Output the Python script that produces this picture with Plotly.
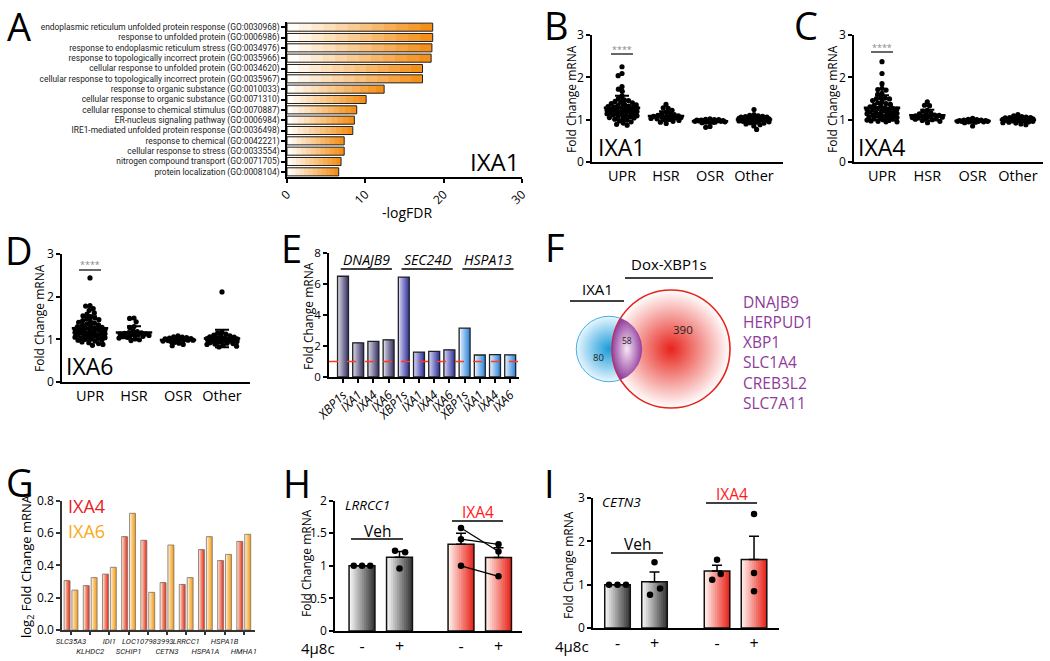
import numpy as np
import plotly.graph_objects as go

W, H = 1050, 661
FONT = "Open Sans"

# ---------------- A: GO enrichment (IXA1)
go_terms = [
    "endoplasmic reticulum unfolded protein response (GO:0030968)",
    "response to unfolded protein (GO:0006986)",
    "response to endoplasmic reticulum stress (GO:0034976)",
    "response to topologically incorrect protein (GO:0035966)",
    "cellular response to unfolded protein (GO:0034620)",
    "cellular response to topologically incorrect protein (GO:0035967)",
    "response to organic substance (GO:0010033)",
    "cellular response to organic substance (GO:0071310)",
    "cellular response to chemical stimulus (GO:0070887)",
    "ER-nucleus signaling pathway (GO:0006984)",
    "IRE1-mediated unfolded protein response (GO:0036498)",
    "response to chemical (GO:0042221)",
    "cellular response to stress (GO:0033554)",
    "nitrogen compound transport (GO:0071705)",
    "protein localization (GO:0008104)",
]
go_logfdr = [18.6, 18.6, 18.5, 18.4, 17.3, 17.3, 12.4, 10.1, 8.9, 8.6, 8.4, 7.3, 7.3, 6.9, 6.6]

# ---------------- B-D: fold change per stress pathway
stress_groups = ["UPR", "HSR", "OSR", "Other"]

ixa1_upr = [2.25, 2.09, 2.04, 1.78, 1.72, 1.67, 1.56, 1.50, 1.47, 1.45, 1.43, 1.41, 1.40, 1.38,
            1.36, 1.35, 1.33, 1.32, 1.31, 1.30, 1.29, 1.28, 1.27, 1.26, 1.25, 1.24, 1.24, 1.23,
            1.22, 1.21, 1.20, 1.19, 1.18, 1.18, 1.17, 1.16, 1.15, 1.14, 1.13, 1.12, 1.11, 1.10,
            1.09, 1.08, 1.07, 1.05, 1.04, 1.03, 1.01, 0.99, 0.97, 0.95, 0.92, 0.89, 0.87]
ixa1_hsr = [1.36, 1.28, 1.27, 1.22, 1.18, 1.15, 1.13, 1.12, 1.10, 1.09, 1.08, 1.07, 1.06, 1.05,
            1.05, 1.04, 1.03, 1.02, 1.01, 1.00, 0.98, 0.96, 0.94, 0.91]
ixa1_osr = [1.02, 1.01, 1.00, 1.00, 0.99, 0.99, 0.98, 0.98, 0.98, 0.97, 0.97, 0.97, 0.96, 0.96,
            0.96, 0.95, 0.95, 0.94, 0.93, 0.84, 0.82]
ixa1_other = [1.24, 1.12, 1.10, 1.09, 1.08, 1.07, 1.06, 1.06, 1.05, 1.05, 1.04, 1.04, 1.03, 1.03,
              1.02, 1.02, 1.01, 1.01, 1.00, 1.00, 0.99, 0.99, 0.98, 0.98, 0.97, 0.96, 0.95, 0.94,
              0.93, 0.92, 0.90, 0.88, 0.85, 0.77]

ixa4_upr = [2.37, 2.09, 1.85, 1.74, 1.71, 1.70, 1.62, 1.60, 1.52, 1.51, 1.50, 1.49, 1.45, 1.42,
            1.40, 1.38, 1.36, 1.34, 1.32, 1.30, 1.28, 1.27, 1.26, 1.25, 1.24, 1.23, 1.22, 1.21,
            1.20, 1.19, 1.18, 1.17, 1.16, 1.15, 1.14, 1.13, 1.12, 1.11, 1.10, 1.09, 1.08, 1.07,
            1.06, 1.05, 1.04, 1.03, 1.02, 1.01, 1.00, 0.99, 0.98, 0.97, 0.96, 0.95, 0.95]
ixa4_hsr = [1.42, 1.34, 1.33, 1.22, 1.20, 1.16, 1.14, 1.12, 1.11, 1.10, 1.09, 1.08, 1.07, 1.06,
            1.05, 1.04, 1.03, 1.02, 1.01, 1.00, 0.98, 0.96, 0.93]
ixa4_osr = [1.03, 1.01, 1.00, 0.99, 0.99, 0.98, 0.98, 0.98, 0.97, 0.97, 0.97, 0.96, 0.96, 0.96,
            0.95, 0.95, 0.94, 0.93, 0.85]
ixa4_other = [1.12, 1.09, 1.07, 1.06, 1.05, 1.05, 1.04, 1.04, 1.03, 1.03, 1.02, 1.02, 1.01, 1.01,
              1.00, 1.00, 1.00, 0.99, 0.99, 0.98, 0.98, 0.97, 0.97, 0.96, 0.95, 0.94, 0.93, 0.92,
              0.90, 0.88]

ixa6_upr = [2.44, 1.79, 1.78, 1.72, 1.68, 1.62, 1.59, 1.55, 1.53, 1.50, 1.48, 1.46, 1.44, 1.42,
            1.40, 1.38, 1.36, 1.34, 1.33, 1.31, 1.30, 1.28, 1.27, 1.26, 1.25, 1.24, 1.23, 1.22,
            1.21, 1.20, 1.19, 1.18, 1.17, 1.16, 1.15, 1.14, 1.13, 1.12, 1.11, 1.10, 1.09, 1.08,
            1.07, 1.06, 1.05, 1.04, 1.03, 1.02, 1.01, 1.00, 0.99, 0.98, 0.96, 0.94, 0.92, 0.90,
            0.88, 0.86]
ixa6_hsr = [1.50, 1.49, 1.41, 1.30, 1.28, 1.20, 1.18, 1.16, 1.15, 1.14, 1.13, 1.12, 1.11, 1.10,
            1.09, 1.08, 1.07, 1.06, 1.05, 1.03, 1.01, 0.99, 0.97]
ixa6_osr = [1.08, 1.06, 1.05, 1.04, 1.03, 1.02, 1.01, 1.00, 1.00, 0.99, 0.99, 0.98, 0.98, 0.97,
            0.96, 0.95, 0.93, 0.91, 0.88, 0.85]
ixa6_other = [2.11, 1.17, 1.15, 1.12, 1.10, 1.08, 1.07, 1.06, 1.05, 1.04, 1.03, 1.02, 1.02, 1.01,
              1.01, 1.00, 1.00, 0.99, 0.99, 0.98, 0.98, 0.97, 0.97, 0.96, 0.96, 0.95, 0.94, 0.93,
              0.92, 0.91, 0.90, 0.89, 0.88, 0.86, 0.84, 0.82]

# ---------------- E: qPCR of XBP1s targets
e_genes = ["DNAJB9", "SEC24D", "HSPA13"]
e_treatments = ["XBP1s", "IXA1", "IXA4", "IXA6"]
e_fold = [6.5, 2.2, 2.3, 2.4, 6.45, 1.6, 1.65, 1.75, 3.15, 1.42, 1.45, 1.43]

# ---------------- F: Venn overlap
venn_ixa1_only = 80
venn_shared = 58
venn_xbp1s_only = 390
venn_shared_genes = ["DNAJB9", "HERPUD1", "XBP1", "SLC1A4", "CREB3L2", "SLC7A11"]

# ---------------- G: log2 fold change
g_genes = ["SLC35A3", "KLHDC2", "IDI1", "SCHIP1", "LOC107983993", "CETN3", "LRRCC1",
           "HSPA1A", "HSPA1B", "HMHA1"]
g_ixa4 = [0.305, 0.274, 0.346, 0.577, 0.555, 0.293, 0.282, 0.497, 0.429, 0.548]
g_ixa6 = [0.247, 0.324, 0.388, 0.722, 0.233, 0.526, 0.324, 0.577, 0.468, 0.592]

# ---------------- H, I: 4u8c treatment (replicates per bar: Veh -, Veh +, IXA4 -, IXA4 +)
treat_4u8c = ["-", "+", "-", "+"]
lrrcc1_reps = [[1.0, 1.0, 1.0], [1.23, 1.21, 0.96], [1.58, 1.41, 1.0], [1.22, 1.33, 0.84]]
cetn3_reps = [[1.0, 1.0, 1.0], [1.515, 0.91, 0.77], [1.577, 1.246, 1.115], [2.63, 1.27, 0.846]]


def px(x):
    return x / W


def py(y):
    return 1 - y / H


def hex_rgb(c):
    c = c.lstrip("#")
    return [int(c[i:i + 2], 16) for i in (0, 2, 4)]


def mix(c1, c2, t):
    a, b = hex_rgb(c1), hex_rgb(c2)
    return "rgb({},{},{})".format(*[round(a[i] + (b[i] - a[i]) * t) for i in range(3)])


fig = go.Figure()
axes = {}
annotations = []
shapes = []


def add_axes(n, x0, x1, ytop, ybot, xkw, ykw):
    s = "" if n == 1 else str(n)
    axes["xaxis" + s] = dict(domain=[px(x0), px(x1)], anchor="y" + s, **xkw)
    axes["yaxis" + s] = dict(domain=[py(ybot), py(ytop)], anchor="x" + s, **ykw)


def ax_style(**kw):
    base = dict(showline=True, linecolor="black", linewidth=1.5, ticks="outside", ticklen=4,
                tickwidth=1.5, tickcolor="black", showgrid=False, zeroline=False,
                automargin=False, tickfont=dict(size=12, color="black", family=FONT),
                fixedrange=True)
    base.update(kw)
    return base


def note(text, x, y, size=14, color="black", xanchor="center", yanchor="middle", **kw):
    annotations.append(dict(text=text, x=px(x), y=py(y), xref="paper", yref="paper",
                            showarrow=False, xanchor=xanchor, yanchor=yanchor,
                            font=dict(size=size, color=color, family=FONT), **kw))


def hline(x0, x1, y, width=1.5, color="black"):
    shapes.append(dict(type="line", xref="paper", yref="paper", x0=px(x0), x1=px(x1),
                       y0=py(y), y1=py(y), line=dict(color=color, width=width)))


def gradient_bars(n, pos, vals, dark, light, width, offset, horizontal=False, steps=12,
                  line_color="#222", line_width=1.0, error=None):
    s = "" if n == 1 else str(n)
    vals = np.asarray(vals, float)
    dark = dark if isinstance(dark, list) else [dark] * len(vals)
    light = light if isinstance(light, list) else [light] * len(vals)
    for k in range(steps):
        t = k / (steps - 1)
        frac = 1 - k / steps
        colors = [mix(d, l, t) for d, l in zip(dark, light)]
        if horizontal:
            tr = go.Bar(y=pos, x=vals * frac, orientation="h", width=width, offset=offset)
        else:
            tr = go.Bar(x=pos, y=vals, width=width * frac, offset=offset)
        tr.update(marker=dict(color=colors, line=dict(width=0)), xaxis="x" + s, yaxis="y" + s,
                  hoverinfo="skip")
        fig.add_trace(tr)
    if horizontal:
        tr = go.Bar(y=pos, x=vals, orientation="h", width=width, offset=offset)
    else:
        tr = go.Bar(x=pos, y=vals, width=width, offset=offset)
    tr.update(marker=dict(color="rgba(0,0,0,0)", line=dict(color=line_color, width=line_width)),
              xaxis="x" + s, yaxis="y" + s, hoverinfo="skip")
    if error is not None:
        tr.update(error_y=error)
    fig.add_trace(tr)


def swarm(vals, ppu_x, ppu_y, d=4.4, maxw=15.0):
    # beeswarm offsets (in axis units), packed in pixel space and capped in width
    vals = np.asarray(vals, float)
    xs = np.zeros(len(vals))
    placed = []
    grid = np.linspace(-maxw, maxw, 31)
    for i in np.argsort(-vals, kind="stable"):
        y = vals[i] * ppu_y
        cands = [0.0]
        for (qx, qy) in placed:
            dy = abs(y - qy)
            if dy < d:
                dx = np.sqrt(d * d - dy * dy)
                cands += [qx + dx, qx - dx]
        cands = [c for c in cands if abs(c) <= maxw]
        best = None
        for c in sorted(cands, key=lambda v: (abs(v), v)):
            if all((c - qx) ** 2 + (y - qy) ** 2 >= d * d - 1e-6 for (qx, qy) in placed):
                best = c
                break
        if best is None:
            best = max(grid, key=lambda c: min((c - qx) ** 2 + (y - qy) ** 2
                                               for (qx, qy) in placed))
        xs[i] = best / ppu_x
        placed.append((best, y))
    return xs


# ================= A
add_axes(1, 287, 522, 22, 177,
         ax_style(range=[0, 30], tickvals=[0, 10, 20, 30], tickangle=-45,
                  tickfont=dict(size=12, family=FONT, color="black")),
         ax_style(type="category", categoryarray=go_terms, categoryorder="array",
                  autorange="reversed", tickmode="array", tickvals=go_terms, ticktext=go_terms,
                  tickfont=dict(size=8.4, family="Roboto", color="#222")))
gradient_bars(1, go_terms, go_logfdr, "#F4901A", "#FFFDF8", 0.78, -0.39, horizontal=True)
note("IXA1", 521, 162, size=24, xanchor="right")
note("-logFDR", 407, 212, size=14)

# ================= B, C, D
dot_panels = [
    (2, (592, 783, 35, 162), (622, 44.0), [ixa1_upr, ixa1_hsr, ixa1_osr, ixa1_other], "IXA1",
     (596, 147), (571, 99), (49, 54)),
    (3, (854, 1043, 35, 162), (882, 45.3), [ixa4_upr, ixa4_hsr, ixa4_osr, ixa4_other], "IXA4",
     (856, 147), (832, 99), (47, 52)),
    (4, (62, 250, 254, 382), (90, 44.0), [ixa6_upr, ixa6_hsr, ixa6_osr, ixa6_other], "IXA6",
     (64, 366), (39, 318), (264, 270)),
]
for n, (x0, x1, yt, yb), (c0, ppu), groups, lab, labpos, titpos, star in dot_panels:
    ppu_y = (yb - yt) / 3.0
    add_axes(n, x0, x1, yt, yb,
             ax_style(range=[(x0 - c0) / ppu, (x1 - c0) / ppu], tickvals=[0, 1, 2, 3],
                      ticktext=stress_groups, ticks="",
                      tickfont=dict(size=14.5, family=FONT, color="black")),
             ax_style(range=[0, 3], tickvals=[0, 1, 2, 3]))
    for gi, vals in enumerate(groups):
        v = np.asarray(vals, float)
        fig.add_trace(go.Scatter(x=gi + swarm(v, ppu, ppu_y), y=v, mode="markers",
                                 marker=dict(size=5.2, color="black"),
                                 xaxis="x%d" % n, yaxis="y%d" % n, hoverinfo="skip"))
        fig.add_trace(go.Scatter(x=[gi], y=[v.mean()], mode="markers",
                                 marker=dict(symbol="line-ew", size=26,
                                             line=dict(width=2.5, color="black")),
                                 error_y=dict(type="data", array=[v.std(ddof=1)], width=7,
                                              thickness=2, color="black"),
                                 xaxis="x%d" % n, yaxis="y%d" % n, hoverinfo="skip"))
    note(lab, labpos[0], labpos[1], size=23, xanchor="left")
    note("Fold Change mRNA", titpos[0], titpos[1], size=12, textangle=-90)
    note("****", c0, star[0], size=9, color="#888")
    hline(c0 - 11, c0 + 11, star[1], width=1.2)

# ================= E
e_pos = list(range(len(e_fold)))
e_dark = ["#3C3768"] * 4 + ["#35359E"] * 4 + ["#2F86DC"] * 4
e_light = ["#D4D2E2"] * 4 + ["#D0D0F2"] * 4 + ["#E3EEFB"] * 4
add_axes(5, 329, 519, 253, 377,
         ax_style(range=[(329 - 343) / 15.2, (519 - 343) / 15.2], tickvals=e_pos,
                  ticktext=e_treatments * len(e_genes), tickangle=-45,
                  tickfont=dict(size=12.5, family=FONT, color="black", style="italic")),
         ax_style(range=[0, 8], tickvals=[0, 2, 4, 6, 8],
                  tickfont=dict(size=11.5, family=FONT, color="black")))
gradient_bars(5, e_pos, e_fold, e_dark, e_light, 0.72, -0.36, line_width=1.3)
shapes.append(dict(type="line", xref="x5 domain", yref="y5", x0=0, x1=1, y0=1, y1=1,
                   line=dict(color="#FF3B1F", width=1.5, dash="dash")))
for g, gene in enumerate(e_genes):
    annotations.append(dict(text="<i>%s</i>" % gene, x=4 * g + 1.55, y=py(259), xref="x5",
                            yref="paper", showarrow=False,
                            font=dict(size=14, family=FONT, color="black")))
    shapes.append(dict(type="line", xref="x5", yref="paper", x0=4 * g - 0.15, x1=4 * g + 3.22,
                       y0=py(269), y1=py(269), line=dict(color="black", width=1.5)))
note("Fold Change mRNA", 308, 316, size=12, textangle=-90)

# ================= F
add_axes(6, 560, 770, 250, 420,
         dict(range=[560, 770], visible=False, fixedrange=True, automargin=False),
         dict(range=[420, 250], visible=False, fixedrange=True, automargin=False))
r_big = 59.0
k_area = r_big / np.sqrt(venn_xbp1s_only + venn_shared)
r_small = k_area * np.sqrt(venn_ixa1_only + venn_shared)
cx1, cy = 609.0, 349.0
cx2 = cx1 + 62.0
fig.add_trace(go.Scatter(x=[cx1], y=[cy], mode="markers", xaxis="x6", yaxis="y6",
                         marker=dict(size=2 * r_small, color="#E8F6FE",
                                     gradient=dict(type="radial", color="#1A9BDA"),
                                     line=dict(width=0.8, color="#1A9BDA")), hoverinfo="skip"))
fig.add_trace(go.Scatter(x=[cx2], y=[cy], mode="markers", xaxis="x6", yaxis="y6",
                         marker=dict(size=2 * r_big, color="#FFFFFF",
                                     gradient=dict(type="radial", color="#E8231B"),
                                     line=dict(width=1.6, color="#E8231B")), hoverinfo="skip"))
d = cx2 - cx1
a = (d ** 2 + r_small ** 2 - r_big ** 2) / (2 * d)
hh = np.sqrt(r_small ** 2 - a ** 2)
t1 = np.arctan2(hh, a)
t2 = np.arctan2(hh, d - a)
ang1 = np.linspace(-t1, t1, 80)
ang2 = np.linspace(np.pi - t2, np.pi + t2, 80)
lens_x = np.concatenate([cx1 + r_small * np.cos(ang1), cx2 + r_big * np.cos(ang2)])
lens_y = np.concatenate([cy + r_small * np.sin(ang1), cy + r_big * np.sin(ang2)])
fig.add_trace(go.Scatter(x=lens_x, y=lens_y, mode="lines", fill="toself", xaxis="x6",
                         yaxis="y6", line=dict(color="#8E3A9A", width=0.6),
                         fillgradient=dict(type="radial",
                                           colorscale=[[0, "#F7E6F5"], [1, "#93419F"]]),
                         hoverinfo="skip"))
annotations += [
    dict(text=str(venn_ixa1_only), x=cx1 - 11, y=cy + 9, xref="x6", yref="y6", showarrow=False,
         font=dict(size=9.5, family=FONT, color="#222")),
    dict(text=str(venn_shared), x=(cx2 - r_big + cx1 + r_small) / 2, y=cy - 8, xref="x6",
         yref="y6", showarrow=False, font=dict(size=8.5, family=FONT, color="#222")),
    dict(text=str(venn_xbp1s_only), x=cx2 + 12, y=cy - 19, xref="x6", yref="y6",
         showarrow=False, font=dict(size=11.5, family=FONT, color="#222")),
]
note("IXA1", 597, 289, size=15)
hline(570, 624, 301)
note("Dox-XBP1s", 669, 264, size=15)
hline(625, 713, 278)
note("<br>".join(venn_shared_genes), 741, 352, size=15.5, color="#8E3A9A", xanchor="left",
     align="left")

# ================= G
g_pos = list(range(len(g_genes)))
g_text = ["<i>%s</i>" % g if i % 2 == 0 else "<br><i>%s</i>" % g for i, g in enumerate(g_genes)]
add_axes(7, 62, 255, 500.7, 630,
         ax_style(range=[(62 - 71) / 19.2, (255 - 71) / 19.2], tickvals=g_pos, ticktext=g_text,
                  tickangle=0, ticklen=3, linecolor="#333", tickcolor="#333",
                  tickfont=dict(size=7.7, family="Roboto", color="#222")),
         ax_style(range=[0, 0.8], tickvals=[0, 0.2, 0.4, 0.6, 0.8], tickformat=".1f",
                  linecolor="#333", tickcolor="#333",
                  tickfont=dict(size=12, family=FONT, color="black")))
gradient_bars(7, g_pos, g_ixa4, "#E5301C", "#FCE0CC", 0.31, -0.36, line_color="#777",
              line_width=0.8)
gradient_bars(7, g_pos, g_ixa6, "#F39A14", "#FEEBCB", 0.31, 0.05, line_color="#777",
              line_width=0.8)
note("IXA4", 66, 506, size=18, color="#E8201E", xanchor="left")
note("IXA6", 66, 531, size=18, color="#F9A91B", xanchor="left")
note("log<sub>2</sub> Fold Change mRNA", 27, 566, size=13, textangle=-90)

# ================= H, I
bar_panels = [
    (8, (335, 522, 500.7, 631), (362, 37.5), 2.64, 2.0, [0, 0.5, 1, 1.5, 2],
     ["0", "0.5", "1", "1.5", "2"], lrrcc1_reps, "LRRCC1",
     [[-0.22, 0.0, 0.22], [-0.12, 0.15, 0.0], [0.0, 0.0, 0.0], [0.0, 0.0, 0.0]], True,
     dict(lab=(343, 505), veh=(377, 531, 351, 403, 539), ixa=(478, 512, 452, 503, 521),
          u8c=(318, 648), title=(306, 563))),
    (9, (593, 779, 498, 628), (617.5, 37.0), 2.69, 3.0, [0, 1, 2, 3],
     ["0", "1", "2", "3"], cetn3_reps, "CETN3",
     [[-0.23, 0.0, 0.23], [0.0, 0.15, -0.12], [0.0, 0.1, -0.13], [0.0, 0.0, 0.0]], False,
     dict(lab=(600, 502), veh=(637, 544, 611, 663, 553), ixa=(732, 494, 706, 757, 503),
          u8c=(572, 646), title=(568, 565))),
]
for n, (x0, x1, yt, yb), (c0, ppu), gstep, ymax, yt_vals, yt_text, reps, gene, jit, paired, pos_ in bar_panels:
    xpos = [g * gstep + i for g in range(2) for i in range(2)]
    reps = [np.asarray(r, float) for r in reps]
    means = [r.mean() for r in reps]
    sems = [r.std(ddof=1) / np.sqrt(len(r)) for r in reps]
    add_axes(n, x0, x1, yt, yb,
             ax_style(range=[(x0 - c0) / ppu, (x1 - c0) / ppu], tickvals=xpos,
                      ticktext=treat_4u8c, ticks="",
                      tickfont=dict(size=16, family=FONT, color="black")),
             ax_style(range=[0, ymax], tickvals=yt_vals, ticktext=yt_text,
                      tickfont=dict(size=12, family=FONT, color="black")))
    gradient_bars(n, xpos, means, ["#383838"] * 2 + ["#E8281E"] * 2,
                  ["#F4F4F4"] * 2 + ["#FFEDE8"] * 2, 0.69, -0.345, line_color="#111",
                  line_width=1.5,
                  error=dict(type="data", array=sems, arrayminus=[0] * 4, symmetric=False,
                             width=5, thickness=1.5, color="black"))
    if paired:
        for j in range(3):
            fig.add_trace(go.Scatter(x=[xpos[2] + jit[2][j], xpos[3] + jit[3][j]],
                                     y=[reps[2][j], reps[3][j]], mode="lines",
                                     line=dict(color="black", width=1.3), xaxis="x%d" % n,
                                     yaxis="y%d" % n, hoverinfo="skip"))
    for b in range(4):
        fig.add_trace(go.Scatter(x=xpos[b] + np.asarray(jit[b]), y=reps[b], mode="markers",
                                 marker=dict(size=6.5, color="black"), xaxis="x%d" % n,
                                 yaxis="y%d" % n, hoverinfo="skip"))
    note("<i>%s</i>" % gene, pos_["lab"][0], pos_["lab"][1], size=13.5, xanchor="left")
    vx, vy, vl0, vl1, vly = pos_["veh"]
    note("Veh", vx, vy, size=15.5)
    hline(vl0, vl1, vly)
    ix, iy, il0, il1, ily = pos_["ixa"]
    note("IXA4", ix, iy, size=15.5, color="#FF1A1A")
    hline(il0, il1, ily)
    note("4\u00b58c", pos_["u8c"][0], pos_["u8c"][1], size=15)
    note("Fold Change mRNA", pos_["title"][0], pos_["title"][1], size=12, textangle=-90)

# ================= panel letters
for letter, (x, y) in {"A": (19, 26), "B": (556, 25), "C": (806, 25), "D": (19, 250),
                       "E": (291, 248), "F": (555, 247), "G": (20, 482), "H": (297, 483),
                       "I": (549, 483)}.items():
    note(letter, x, y, size=38)

fig.update_layout(
    width=W,
    height=H,
    margin=dict(l=0, r=0, t=0, b=0, autoexpand=False),
    barmode="overlay",
    showlegend=False,
    plot_bgcolor="white",
    paper_bgcolor="white",
    font=dict(family=FONT, color="black"),
    annotations=annotations,
    shapes=shapes,
    **axes,
)

fig.write_html("out.html", config={"displayModeBar": False},
               post_script="document.body.style.margin = '0px';")
